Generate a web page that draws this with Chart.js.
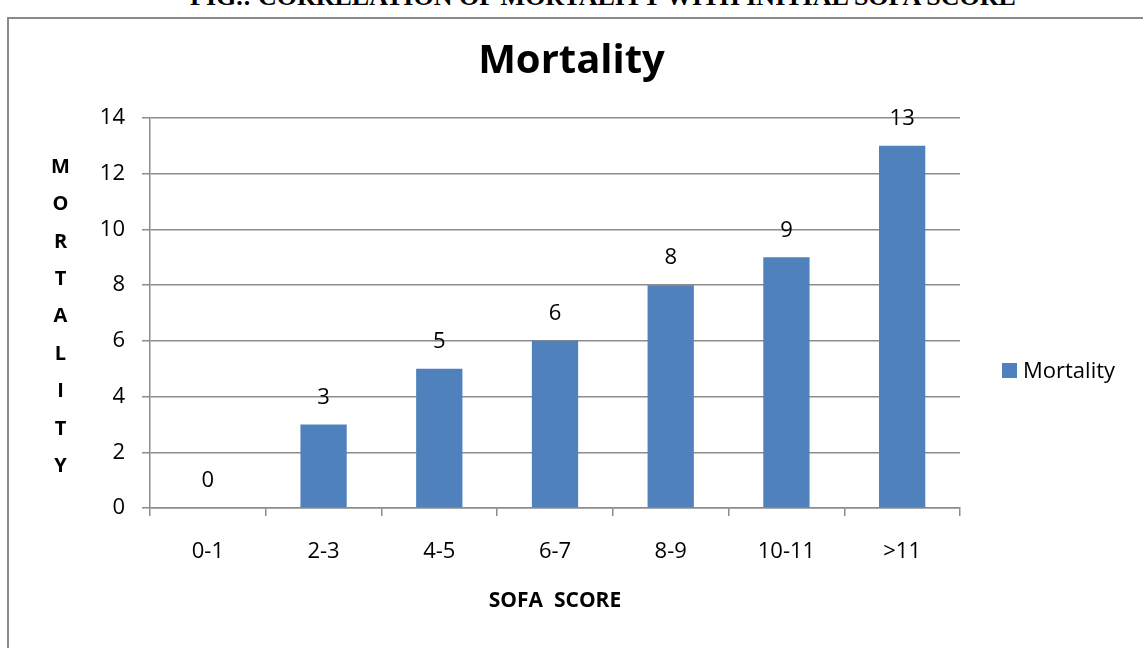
<!DOCTYPE html>
<html lang="en">
<head>
    <meta charset="UTF-8">
    <title>Mortality</title>
    <script src="https://cdn.jsdelivr.net/npm/chart.js"></script>
    <style>
        html, body {
            margin: 0;
            padding: 0;
            background: #fff;
            overflow: hidden;
        }
        .caption {
            position: absolute;
            left: 0;
            width: 1206px;
            top: -18px;
            text-align: center;
            font-family: "Liberation Serif", serif;
            font-weight: bold;
            font-size: 26px;
            line-height: 30px;
            color: #000;
            white-space: nowrap;
        }
        .frame {
            position: absolute;
            left: 7px;
            top: 17px;
            width: 1200px;
            height: 700px;
            border: 2px solid #8a8a8a;
            box-sizing: border-box;
        }
        .wrap {
            position: absolute;
            left: 0;
            top: 0;
            width: 1143px;
            height: 648px;
        }
    </style>
</head>
<body>
    <div class="caption">FIG.: CORRELATION OF MORTALITY WITH INITIAL SOFA SCORE</div>
    <div class="frame"></div>
    <div class="wrap"><canvas id="chart"></canvas></div>
    <script>
        const categories = ["0-1", "2-3", "4-5", "6-7", "8-9", "10-11", ">11"];
        const mortality = [0, 3, 5, 6, 8, 9, 13];
        const seriesName = "Mortality";
        const yTitle = "MORTALITY";
        const xTitle = "SOFA  SCORE";

        const FONT = "'Open Sans', sans-serif";
        const BLUE = "#4f81bd";
        const GRID = "#8c8c8c";

        // value labels above each bar
        const valueLabels = {
            id: "valueLabels",
            afterDatasetsDraw(chart) {
                const ctx = chart.ctx;
                const meta = chart.getDatasetMeta(0);
                ctx.save();
                ctx.font = "22px " + FONT;
                ctx.fillStyle = "#000";
                ctx.textAlign = "center";
                ctx.textBaseline = "middle";
                meta.data.forEach((bar, i) => {
                    ctx.fillText(String(mortality[i]), bar.x, bar.y - 27);
                });
                ctx.restore();
            }
        };

        // stacked letters for the y title and a legend on the right
        const extras = {
            id: "extras",
            afterDraw(chart) {
                const ctx = chart.ctx;
                const area = chart.chartArea;
                ctx.save();
                ctx.font = "bold 20px " + FONT;
                ctx.fillStyle = "#000";
                ctx.textAlign = "center";
                ctx.textBaseline = "middle";
                const letters = yTitle.split("");
                const step = 37.4;
                const y0 = 167;
                letters.forEach((ch, i) => ctx.fillText(ch, 60.5, y0 + i * step));

                // legend
                const lx = area.right + 42;
                const ly = 370.5;
                ctx.fillStyle = BLUE;
                ctx.fillRect(lx, ly - 7.5, 15, 15);
                ctx.fillStyle = "#000";
                ctx.font = "22px " + FONT;
                ctx.textAlign = "left";
                ctx.fillText(seriesName, lx + 21, ly + 1);
                ctx.restore();
            }
        };

        new Chart(document.getElementById("chart"), {
            type: "bar",
            data: {
                labels: categories,
                datasets: [{
                    label: seriesName,
                    data: mortality,
                    backgroundColor: BLUE,
                    barPercentage: 0.4,
                    categoryPercentage: 1
                }]
            },
            options: {
                responsive: true,
                maintainAspectRatio: false,
                animation: false,
                layout: { padding: 0 },
                plugins: {
                    legend: { display: false },
                    tooltip: { enabled: false },
                    title: {
                        display: true,
                        text: "Mortality",
                        color: "#000",
                        font: { family: FONT, size: 40, weight: "bold" },
                        padding: { top: 38, bottom: 32 }
                    }
                },
                scales: {
                    x: {
                        afterFit(scale) { scale.height = 140; },
                        grid: {
                            display: true,
                            drawOnChartArea: false,
                            drawTicks: true,
                            tickLength: 8,
                            color: GRID,
                            lineWidth: 1.5
                        },
                        border: { color: GRID, width: 1.5 },
                        ticks: {
                            color: "#000",
                            padding: 23,
                            font: { family: FONT, size: 22 }
                        },
                        title: {
                            display: true,
                            text: xTitle,
                            color: "#000",
                            font: { family: FONT, size: 21, weight: "bold" },
                            padding: { top: 0, bottom: 34 }
                        }
                    },
                    y: {
                        min: 0,
                        max: 14,
                        afterFit(scale) { scale.width = 150; },
                        grid: {
                            color: GRID,
                            lineWidth: 1.5,
                            tickLength: 8
                        },
                        border: { color: GRID, width: 1.5 },
                        ticks: {
                            stepSize: 2,
                            color: "#000",
                            padding: 17,
                            font: { family: FONT, size: 22 }
                        }
                    },
                    // empty right-hand axis keeps room for the legend
                    side: {
                        type: "linear",
                        position: "right",
                        afterFit(scale) { scale.width = 183; },
                        grid: { display: false },
                        border: { display: false },
                        ticks: { display: false }
                    }
                }
            },
            plugins: [valueLabels, extras]
        });
    </script>
</body>
</html>
